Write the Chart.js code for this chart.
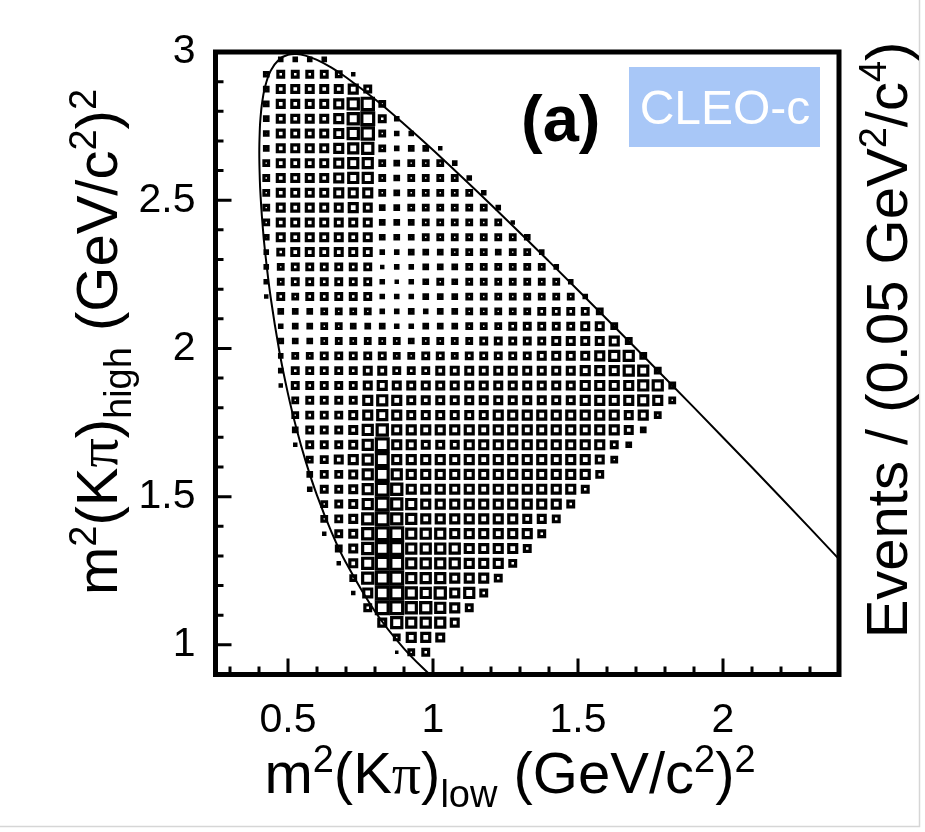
<!DOCTYPE html>
<html>
<head>
<meta charset="utf-8">
<script src="https://cdn.jsdelivr.net/npm/chart.js@4.4.1/dist/chart.umd.min.js"></script>
<style>
  html, body { margin: 0; padding: 0; background: #ffffff; }
  #wrap { width: 925px; height: 832px; }
</style>
</head>
<body>
<div id="wrap"><canvas id="c" width="925" height="832"></canvas></div>
<script>
// ---------- data ----------
const binWidth = 0.05;
const vMax = 13; // relative bin content that fills a whole bin
const xCenters = [0.425,0.475,0.525,0.575,0.625,0.675,0.725,0.775,0.825,0.875,0.925,0.975,1.025,1.075,1.125,1.175,1.225,1.275,1.325,1.375,1.425,1.475,1.525,1.575,1.625,1.675,1.725,1.775,1.825];
const yCenters = [2.975,2.925,2.875,2.825,2.775,2.725,2.675,2.625,2.575,2.525,2.475,2.425,2.375,2.325,2.275,2.225,2.175,2.125,2.075,2.025,1.975,1.925,1.875,1.825,1.775,1.725,1.675,1.625,1.575,1.525,1.475,1.425,1.375,1.325,1.275,1.225,1.175,1.125,1.075,1.025,0.975];
// relative bin contents, one row per m^2(Kpi)_high bin (top to bottom), columns by m^2(Kpi)_low bin
const binContent = [
  [0,5,5,5,5],
  [6,8,8,8,8,7,4],
  [6,9,9,9,9,9,10,8],
  [6,9,9,9,9,10,12,13,7],
  [6,9,9,9,9,10,12,14,8,5],
  [6,9,9,9,9,10,12,13,7,5,5],
  [6,9,9,9,9,10,11,12,7,5,6,6,4],
  [7,9,9,9,9,10,11,11,7,6,7,7,7,5],
  [7,9,9,9,9,10,11,11,7,6,7,7,7,7,5],
  [7,9,9,9,9,10,10,10,7,6,7,7,7,7,7,5],
  [7,9,9,9,9,9,10,9,6,6,7,7,7,7,7,7,5],
  [7,9,9,9,9,9,9,9,6,6,6,7,7,7,7,7,7,4],
  [6,9,9,9,9,9,9,9,6,6,6,7,7,7,7,7,7,7,6],
  [5,8,9,9,9,9,9,9,5,5,6,6,6,7,7,7,6,7,7,5],
  [5,7,8,8,8,8,8,8,4,5,5,6,6,6,7,7,7,7,7,7,5],
  [5,7,8,8,8,8,8,8,5,4,5,6,7,6,7,7,7,7,7,7,7,5],
  [4,8,7,8,8,8,8,8,5,5,5,6,6,6,7,7,7,7,7,7,7,7,5],
  [0,6,6,6,7,7,7,7,5,5,6,5,6,6,7,7,7,7,7,8,8,8,8,7],
  [0,5,6,6,7,7,6,6,6,5,5,6,6,6,7,7,7,8,8,8,8,8,9,9,7],
  [0,6,6,6,7,7,7,7,7,7,6,7,7,7,7,8,8,8,8,8,9,9,9,9,10,7],
  [0,5,7,7,8,8,8,8,8,7,7,8,8,7,8,8,8,8,8,9,9,9,9,10,11,11,7],
  [0,5,8,8,8,8,8,9,9,8,8,8,9,9,9,9,9,9,9,9,9,9,10,10,10,11,11,7],
  [0,4,8,8,8,8,8,9,10,9,9,9,9,9,9,9,9,9,9,9,9,9,10,10,10,10,11,11,7],
  [0,0,7,8,8,8,8,10,11,10,9,9,9,9,9,9,9,9,9,9,9,9,10,10,10,10,11,10,7],
  [0,0,7,8,8,8,9,10,11,10,9,9,9,9,9,9,10,10,10,10,10,10,10,10,10,9,10,7],
  [0,0,6,8,8,8,9,11,12,10,10,10,10,10,10,10,10,10,10,10,10,10,10,10,10,9,6],
  [0,0,4,8,8,8,9,11,14,10,10,9,9,9,10,10,10,10,10,10,10,10,10,10,8,6],
  [0,0,0,7,8,9,10,11,14,10,10,10,10,10,10,10,10,10,10,10,10,10,10,9,7],
  [0,0,0,6,8,8,9,11,14,11,10,10,10,10,10,10,10,10,10,10,10,10,10,8],
  [0,0,0,5,8,8,9,11,14,12,10,10,10,10,10,10,10,10,10,10,10,10,8],
  [0,0,0,0,7,8,9,11,14,12,11,10,10,10,10,10,10,10,10,10,10,8],
  [0,0,0,0,7,8,9,12,15,12,11,10,10,10,10,10,10,10,9,9,8],
  [0,0,0,0,4,8,9,12,15,14,11,11,11,10,10,10,10,10,10,8],
  [0,0,0,0,0,7,9,12,15,14,11,11,11,11,10,10,10,10,8],
  [0,0,0,0,0,4,9,12,15,14,11,11,11,11,10,10,10,8],
  [0,0,0,0,0,0,7,12,15,14,11,11,11,10,10,10,8],
  [0,0,0,0,0,0,4,10,15,14,12,11,12,10,11,8],
  [0,0,0,0,0,0,0,8,14,14,12,12,11,10,8],
  [0,0,0,0,0,0,0,0,9,12,11,11,11,9],
  [0,0,0,0,0,0,0,0,0,7,10,10,9],
  [0,0,0,0,0,0,0,0,0,3,7,8]
];
// Dalitz-plot kinematic boundary (m^2 low, m^2 high)
const boundaryX = [1.0,0.9,0.8,0.7,0.65,0.6,0.56,0.53,0.5,0.47,0.44,0.42,0.41,0.405,0.403,0.401,0.403,0.405,0.41,0.42,0.44,0.47,0.5,0.53,0.56,0.6,0.65,0.7,0.8,0.9,1.0,1.2,1.4,1.6,1.8,2.0,2.2,2.4,2.5];
const boundaryY = [0.8885,0.9871,1.1124,1.2769,1.3805,1.5042,1.6224,1.7261,1.8468,1.9913,2.1735,2.3354,2.4458,2.5224,2.5651,2.6606,2.7444,2.7755,2.8237,2.8788,2.9364,2.9755,2.9905,2.9930,2.9878,2.9732,2.9470,2.9149,2.8403,2.7573,2.6693,2.4848,2.2936,2.0984,1.9003,1.6997,1.4963,1.2893,1.1838];
// axes
const xRange = [0.25, 2.4];
const yRange = [0.9, 3.0];
const xMajorTicks = [0.5, 1, 1.5, 2];
const xMinorTicks = [0.3,0.4,0.6,0.7,0.8,0.9,1.1,1.2,1.3,1.4,1.6,1.7,1.8,1.9,2.1,2.2,2.3];
const yMajorTicks = [1, 1.5, 2, 2.5, 3];
const yMinorTicks = [1.1,1.2,1.3,1.4,1.6,1.7,1.8,1.9,2.1,2.2,2.3,2.4,2.6,2.7,2.8,2.9];

// ---------- build datasets ----------
const boxPoints = [];
binContent.forEach((row, r) => row.forEach((v, c) => {
  if (v > 0) boxPoints.push({ x: xCenters[c], y: yCenters[r], v: v });
}));
const curvePoints = boundaryX.map((x, i) => ({ x: x, y: boundaryY[i] }));

const BOX_LINE = 3.2;
function boxRadius(ctx) {
  const ch = ctx.chart, xs = ch.scales && ch.scales.x;
  if (!xs || !ctx.raw) return 0;
  const bin = Math.abs(xs.getPixelForValue(binWidth) - xs.getPixelForValue(0));
  const outer = Math.min(bin * ctx.raw.v / vMax, bin + 0.5);
  const side = Math.max(outer - BOX_LINE, 0.3);
  return side / Math.SQRT2;
}

const SANS = '"Liberation Sans", Arial, Helvetica, sans-serif';
const SERIF = '"Liberation Serif", "Times New Roman", serif';

function drawRich(ctx, segs, x, y, rot) {
  ctx.save();
  ctx.translate(x, y);
  ctx.rotate(rot);
  ctx.textAlign = 'left';
  ctx.textBaseline = 'alphabetic';
  let w = 0;
  segs.forEach(s => { ctx.font = s.font; s.w = ctx.measureText(s.t).width; w += s.w; });
  let cx = -w / 2;
  segs.forEach(s => { ctx.font = s.font; ctx.fillText(s.t, cx, s.dy || 0); cx += s.w; });
  ctx.restore();
}

const F = 58, S = 38, SUP = -21, SUB = 14;
const fMain = F + 'px ' + SANS, fScript = S + 'px ' + SANS, fPi = F + 'px ' + SERIF;
function massTitle(sub) {
  return [
    { t: 'm', font: fMain }, { t: '2', font: fScript, dy: SUP },
    { t: '(K', font: fMain }, { t: 'π', font: fPi }, { t: ')', font: fMain },
    { t: sub, font: fScript, dy: SUB },
    { t: ' (GeV/c', font: fMain }, { t: '2', font: fScript, dy: SUP },
    { t: ')', font: fMain }, { t: '2', font: fScript, dy: SUP }
  ];
}
const eventsTitle = [
  { t: 'Events / (0.05 GeV', font: fMain }, { t: '2', font: fScript, dy: SUP },
  { t: '/c', font: fMain }, { t: '4', font: fScript, dy: SUP }, { t: ')', font: fMain }
];

const decor = {
  id: 'decor',
  afterDraw(chart) {
    const ctx = chart.ctx, a = chart.chartArea;
    const xs = chart.scales.x, ys = chart.scales.y;
    ctx.save();
    // outer light border of the figure
    ctx.strokeStyle = '#d6d6d6'; ctx.lineWidth = 1.5;
    ctx.beginPath(); ctx.moveTo(919.5, 0); ctx.lineTo(919.5, 826.5); ctx.lineTo(0, 826.5); ctx.stroke();
    // ticks (inside)
    ctx.strokeStyle = '#000'; ctx.lineWidth = 3;
    ctx.beginPath();
    xMinorTicks.forEach(v => { const p = xs.getPixelForValue(v); ctx.moveTo(p, a.bottom); ctx.lineTo(p, a.bottom - 8); });
    xMajorTicks.forEach(v => { const p = xs.getPixelForValue(v); ctx.moveTo(p, a.bottom); ctx.lineTo(p, a.bottom - 16); });
    yMinorTicks.forEach(v => { const p = ys.getPixelForValue(v); ctx.moveTo(a.left, p); ctx.lineTo(a.left + 8, p); });
    yMajorTicks.forEach(v => { const p = ys.getPixelForValue(v); ctx.moveTo(a.left, p); ctx.lineTo(a.left + 16, p); });
    ctx.stroke();
    // frame
    ctx.lineWidth = 5;
    ctx.strokeRect(a.left, a.top, a.right - a.left, a.bottom - a.top);
    // axis titles
    ctx.fillStyle = '#000';
    drawRich(ctx, massTitle('low'), 510, 793, 0);
    drawRich(ctx, massTitle('high'), 117, 342, -Math.PI / 2);
    drawRich(ctx, eventsTitle, 907, 340, -Math.PI / 2);
    // panel label
    ctx.font = 'bold 65px ' + SANS; ctx.textAlign = 'left'; ctx.textBaseline = 'alphabetic';
    ctx.fillText('(a)', 521, 141);
    // experiment tag
    ctx.fillStyle = '#a8c7f7';
    ctx.fillRect(629, 67, 191, 80);
    ctx.fillStyle = '#ffffff';
    ctx.font = '48px ' + SANS; ctx.textAlign = 'center';
    ctx.fillText('CLEO-c', 725, 124);
    ctx.restore();
  }
};

new Chart(document.getElementById('c'), {
  type: 'scatter',
  data: {
    datasets: [
      {
        label: 'boundary',
        data: curvePoints,
        showLine: true,
        borderColor: '#000',
        borderWidth: 2,
        pointRadius: 0,
        tension: 0.4,
        fill: false,
        capBezierPoints: false,
        order: 0
      },
      {
        label: 'events',
        data: boxPoints,
        pointStyle: 'rect',
        pointRadius: boxRadius,
        pointHoverRadius: boxRadius,
        backgroundColor: '#ffffff',
        borderColor: '#000000',
        borderWidth: BOX_LINE,
        order: 1
      }
    ]
  },
  options: {
    responsive: false,
    animation: false,
    devicePixelRatio: 1,
    events: [],
    layout: { padding: { top: 52, left: 0, right: 0, bottom: 0 } },
    plugins: { legend: { display: false }, tooltip: { enabled: false }, title: { display: false } },
    elements: { line: { capBezierPoints: false } },
    scales: {
      x: {
        type: 'linear', position: 'bottom', min: xRange[0], max: xRange[1],
        grid: { display: false }, border: { display: false },
        afterBuildTicks: s => { s.ticks = xMajorTicks.map(v => ({ value: v })); },
        afterFit: s => { s.height = 157.5; },
        ticks: { color: '#000', font: { family: SANS, size: 41 }, padding: 14, maxRotation: 0, autoSkip: false, callback: v => String(v) }
      },
      y: {
        type: 'linear', position: 'left', min: yRange[0], max: yRange[1],
        grid: { display: false }, border: { display: false },
        afterBuildTicks: s => { s.ticks = yMajorTicks.map(v => ({ value: v })); },
        afterFit: s => { s.width = 215.5; },
        ticks: { color: '#000', font: { family: SANS, size: 41 }, padding: 12, autoSkip: false, callback: v => String(v) }
      },
      y2: {
        type: 'linear', position: 'right', min: 0, max: 1,
        grid: { display: false }, border: { display: false },
        ticks: { display: false },
        afterFit: s => { s.width = 86; }
      }
    }
  },
  plugins: [decor]
});
</script>
</body>
</html>
